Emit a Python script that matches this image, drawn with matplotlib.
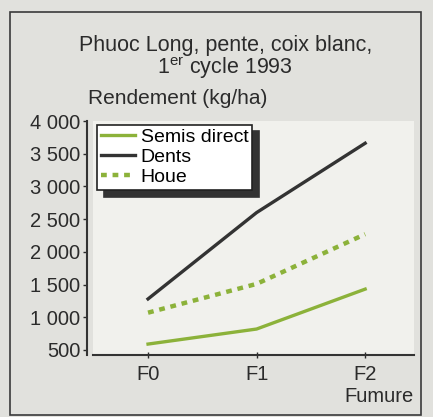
import matplotlib.pyplot as plt
from matplotlib.patches import Rectangle

plt.rcParams["font.family"] = ["Liberation Sans", "DejaVu Sans"]

# -------------------------
# Data
# -------------------------
fumure = ["F0", "F1", "F2"]
semis_direct = [590, 820, 1430]
dents = [1280, 2600, 3660]
houe = [1070, 1510, 2270]

y_ticks = [500, 1000, 1500, 2000, 2500, 3000, 3500, 4000]
y_tick_labels = ["500", "1 000", "1 500", "2 000", "2 500", "3 000", "3 500", "4 000"]

GREEN = "#8cb23a"
DARK = "#333333"
TEXT = "#2b2b2b"

fig = plt.figure(figsize=(4.33, 4.17), dpi=100, facecolor="#e1e1dd")
ax = fig.add_axes([93 / 433, 1 - 355 / 417, 321 / 433, 234 / 417])
ax.set_facecolor("#f1f1ed")

# outer frame
fig.patches.append(Rectangle((10 / 433, 2 / 417), 411 / 433, 403 / 417,
                             transform=fig.transFigure, fill=False,
                             edgecolor="#3a3a3a", linewidth=1.2))

x = list(range(len(fumure)))
ax.plot(x, semis_direct, color=GREEN, linewidth=2.4, label="Semis direct")
ax.plot(x, dents, color=DARK, linewidth=2.4, label="Dents")
ax.plot(x, houe, color=GREEN, linewidth=3.2, linestyle=(0, (1.3, 1.3)), label="Houe")

ax.set_xlim(-0.507, 2.45)
ax.set_ylim(423, 4000)
ax.set_xticks(x)
ax.set_xticklabels(fumure)
ax.set_yticks(y_ticks)
ax.set_yticklabels(y_tick_labels)

for side in ["top", "right"]:
    ax.spines[side].set_visible(False)
ax.spines["left"].set_position(("outward", 4))
ax.spines["left"].set_color(DARK)
ax.spines["left"].set_linewidth(1.5)
ax.spines["bottom"].set_color(DARK)
ax.spines["bottom"].set_linewidth(1.5)
ax.tick_params(axis="both", labelsize=14.5, colors=TEXT, length=3, width=1)
ax.tick_params(axis="y", pad=2)
ax.tick_params(axis="x", direction="inout", length=4, pad=5)

fig.text(0.52, 1 - 45 / 417, "Phuoc Long, pente, coix blanc,", ha="center",
         va="center", fontsize=15.5, color=TEXT)
fig.text(0.52, 1 - 68 / 417, r"1$^{\mathregular{er}}$ cycle 1993", ha="center",
         va="center", fontsize=15.5, color=TEXT)
fig.text(88 / 433, 1 - 98 / 417, "Rendement (kg/ha)", ha="left", va="center",
         fontsize=15, color=TEXT)
fig.text(414 / 433, 1 - 396 / 417, "Fumure", ha="right", va="center",
         fontsize=14.5, color=TEXT)

leg = ax.legend(loc="upper left", bbox_to_anchor=(0.012, 0.985), fontsize=14,
                frameon=True, fancybox=False,
                shadow={"color": "#333333", "alpha": 1, "ox": 5, "oy": -5},
                borderpad=0.2, labelspacing=0.12, handlelength=1.75,
                handletextpad=0.3, borderaxespad=0)
leg.get_frame().set_edgecolor("#222222")
leg.get_frame().set_linewidth(1.2)
leg.get_frame().set_facecolor("white")
leg.get_frame().set_alpha(1)

fig.savefig("out.png", dpi=100, facecolor=fig.get_facecolor())
